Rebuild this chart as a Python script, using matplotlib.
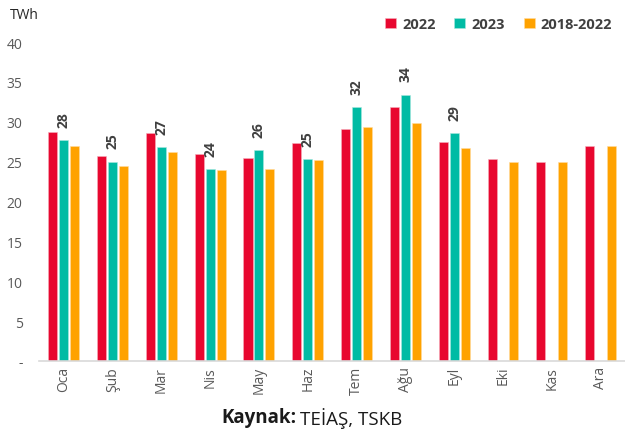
import numpy as np
import matplotlib.pyplot as plt

# aylar ve seriler (TWh)
months = ["Oca", "Şub", "Mar", "Nis", "May", "Haz", "Tem", "Ağu", "Eyl", "Eki", "Kas", "Ara"]
v2022 = [28.7, 25.7, 28.6, 26.0, 25.5, 27.4, 29.1, 31.9, 27.5, 25.3, 25.0, 27.0]
v2023 = [27.7, 25.0, 26.8, 24.1, 26.4, 25.3, 31.8, 33.4, 28.6, np.nan, np.nan, np.nan]
vavg = [27.0, 24.4, 26.2, 23.9, 24.1, 25.2, 29.3, 29.8, 26.7, 24.9, 25.0, 27.0]
labels_2023 = ["28", "25", "27", "24", "26", "25", "32", "34", "29"]

yticks = [0, 5, 10, 15, 20, 25, 30, 35, 40]
ytick_labels = ["-", "5", "10", "15", "20", "25", "30", "35", "40"]

red, teal, orange = "#E8072F", "#00BBA4", "#FFA200"
grey = "#595959"

plt.rcParams['font.family'] = ['Open Sans', 'DejaVu Sans']

fig = plt.figure(figsize=(6.25, 4.35), dpi=100)
ax = fig.add_axes([0.063, 0.168, 0.937, 0.733])

x = np.arange(len(months))
w = 0.185
step = 0.225
ax.bar(x - step, v2022, w, color=red, label="2022", edgecolor="#f5b0bd", linewidth=0.4)
ax.bar(x, v2023, w, color=teal, label="2023", edgecolor="#a8e8de", linewidth=0.4)
ax.bar(x + step, vavg, w, color=orange, label="2018-2022", edgecolor="#ffdca0", linewidth=0.4)

for i, lab in enumerate(labels_2023):
    ax.annotate(lab, (x[i], v2023[i]), xytext=(0, 9.5), textcoords="offset points",
                rotation=90, ha="center", va="bottom", fontsize=10,
                fontweight="bold", color="#404040")

ax.set_xlim(-0.5, len(months) - 0.5)
ax.set_ylim(0, 40)
ax.set_yticks(yticks)
ax.set_yticklabels(ytick_labels)
ax.set_xticks(x)
ax.set_xticklabels(months, rotation=90)
ax.tick_params(axis="both", length=0, colors=grey, labelsize=10)
ax.tick_params(axis="y", pad=12)
for s in ["top", "right", "left"]:
    ax.spines[s].set_visible(False)
ax.spines["bottom"].set_color("#d9d9d9")
ax.spines["bottom"].set_linewidth(1.2)

ax.legend(loc="upper right", bbox_to_anchor=(1.0, 1.12), ncol=3, frameon=False,
          handlelength=0.75, handleheight=0.75, handletextpad=0.4, columnspacing=1.3,
          prop={"weight": "bold", "size": 10.5}, labelcolor="#404040")

fig.text(0.016, 0.965, "TWh", fontsize=10, color="#262626", va="center")
fig.text(0.474, 0.038, "Kaynak:", fontsize=13.5, fontweight="bold", ha="right", va="center", color="#1a1a1a")
fig.text(0.48, 0.038, "TEİAŞ, TSKB", fontsize=13.5, ha="left", va="center", color="#1a1a1a")

fig.savefig("out.png", dpi=100)
